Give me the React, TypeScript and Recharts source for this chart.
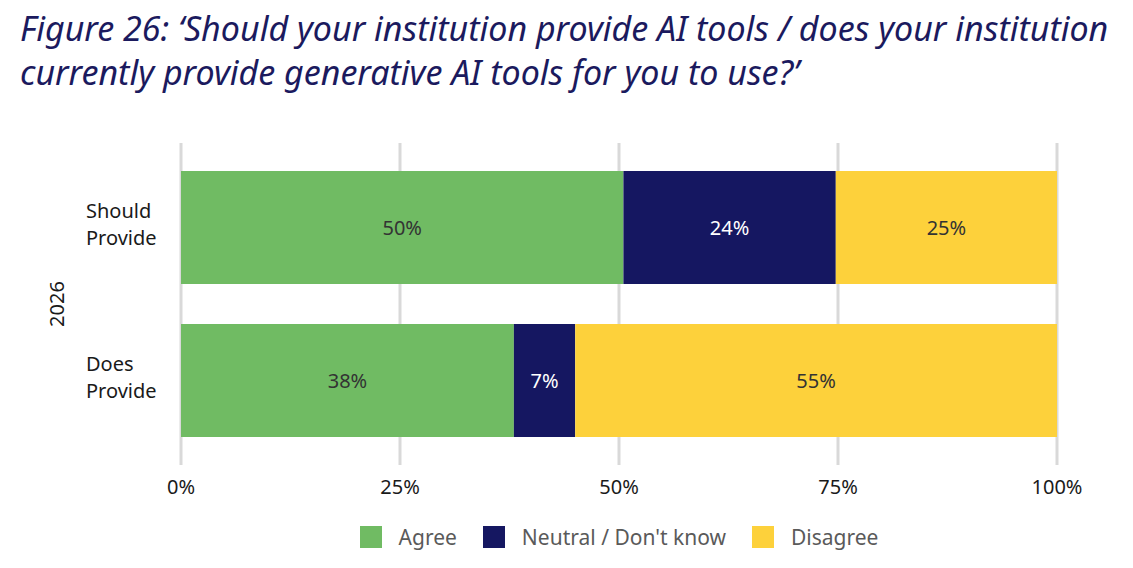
import React from 'react';
import {
  BarChart,
  Bar,
  XAxis,
  YAxis,
  CartesianGrid,
  LabelList
} from 'recharts';

const categories = ['Should Provide', 'Does Provide'];
const agree = [50, 38];
const neutral = [24, 7];
const disagree = [25, 55];
const xTicks = [0, 0.25, 0.5, 0.75, 1];

const SERIES = [
  { key: 'agree', name: 'Agree', color: '#70BB63', text: '#333333' },
  { key: 'neutral', name: "Neutral / Don't know", color: '#151761', text: '#ffffff' },
  { key: 'disagree', name: 'Disagree', color: '#FDD13B', text: '#333333' }
];

const data = categories.map((name, i) => ({
  name,
  agree: agree[i],
  neutral: neutral[i],
  disagree: disagree[i]
}));

const FONT = '"Noto Sans", "Open Sans", sans-serif';

const CategoryTick = (props: any) => {
  const { y, payload } = props;
  const lines = String(payload.value).split(' ');
  return (
    <text x={86} y={y} textAnchor="start" fontFamily={FONT} fontSize={20} fill="#1a1a1a">
      {lines.map((line, i) => (
        <tspan key={i} x={86} dy={i === 0 ? -10 : 27}>
          {line}
        </tspan>
      ))}
    </text>
  );
};

export default function App() {
  return (
    <div style={{ position: 'absolute', left: 0, top: 0, width: 1133, height: 568, background: '#fff' }}>
      <div
        style={{
          position: 'absolute',
          left: 20,
          top: 6,
          fontFamily: FONT,
          fontStyle: 'italic',
          fontSize: 34,
          lineHeight: '44px',
          color: '#1b1a5e',
          whiteSpace: 'nowrap'
        }}
      >
        Figure 26: ‘Should your institution provide AI tools / does your institution
        <br />
        currently provide generative AI tools for you to use?’
      </div>
      <div style={{ position: 'absolute', left: 0, top: 0 }}>
        <BarChart
          width={1133}
          height={568}
          data={data}
          layout="vertical"
          stackOffset="expand"
          margin={{ top: 143, right: 76, bottom: 73, left: 0 }}
        >
          <CartesianGrid horizontal={false} stroke="#d9d9d9" strokeWidth={3} />
          <XAxis
            type="number"
            domain={[0, 1]}
            ticks={xTicks}
            height={30}
            tickFormatter={(v: number) => `${Math.round(v * 100)}%`}
            axisLine={false}
            tickLine={false}
            tickSize={0}
            tickMargin={15}
            tick={{ fontFamily: FONT, fontSize: 20, fill: '#1a1a1a' }}
          />
          <YAxis
            type="category"
            dataKey="name"
            width={181}
            axisLine={false}
            tickLine={false}
            padding={{ top: 8, bottom: 8 }}
            tick={<CategoryTick />}
            label={{
              value: '2026',
              angle: -90,
              position: 'insideLeft',
              offset: 57,
              style: { fontFamily: FONT, fontSize: 20, fill: '#1a1a1a', textAnchor: 'middle' }
            }}
          />
          {SERIES.map(s => (
            <Bar key={s.key} dataKey={s.key} name={s.name} stackId="a" fill={s.color} barSize={113} isAnimationActive={false}>
              <LabelList
                dataKey={s.key}
                position="center"
                formatter={(v: any) => `${v}%`}
                style={{ fontFamily: FONT, fontSize: 20, fill: s.text }}
              />
            </Bar>
          ))}
        </BarChart>
      </div>
      <div
        style={{
          position: 'absolute',
          left: 181,
          width: 876,
          top: 523,
          display: 'flex',
          justifyContent: 'center',
          alignItems: 'center',
          fontFamily: FONT
        }}
      >
        {SERIES.map(s => (
          <div key={s.key} style={{ display: 'flex', alignItems: 'center', margin: '0 13px' }}>
            <span style={{ width: 22, height: 22, background: s.color, display: 'inline-block', marginRight: 17 }} />
            <span style={{ fontSize: 21, color: '#5a5a5a' }}>{s.name}</span>
          </div>
        ))}
      </div>
    </div>
  );
}
